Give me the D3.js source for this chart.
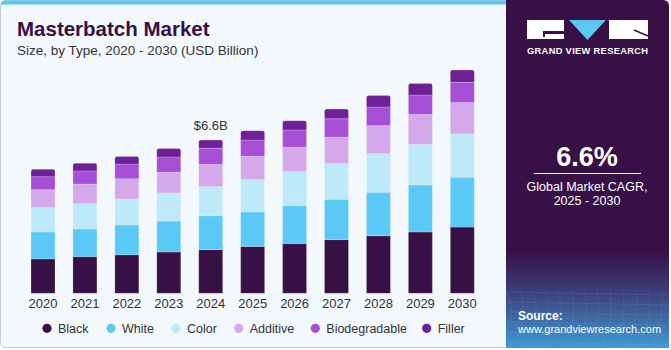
<!DOCTYPE html>
<html><head><meta charset="utf-8">
<script src="https://cdn.jsdelivr.net/npm/d3@7"></script>
<style>body{margin:0;padding:0;background:#fff;}svg{display:block;font-family:"Liberation Sans",Arial,sans-serif;}</style>
</head><body><svg id="c" width="671" height="350"></svg>
<script>
const years = ["2020","2021","2022","2023","2024","2025","2026","2027","2028","2029","2030"];
const seriesNames = ["Black","White","Color","Additive","Biodegradable","Filler"];
const black = [1.48,1.58,1.66,1.78,1.88,2.02,2.14,2.31,2.48,2.64,2.85];
const white = [1.16,1.19,1.28,1.33,1.46,1.49,1.64,1.74,1.87,2.02,2.15];
const color = [1.05,1.09,1.12,1.21,1.25,1.38,1.46,1.53,1.66,1.75,1.86];
const additive = [0.77,0.84,0.87,0.89,0.96,1.01,1.05,1.14,1.21,1.29,1.35];
const biodegradable = [0.56,0.57,0.63,0.66,0.70,0.70,0.74,0.79,0.80,0.83,0.87];
const filler = [0.32,0.33,0.33,0.36,0.35,0.40,0.40,0.42,0.49,0.50,0.53];
const colors = ["#371046","#5bc9f5","#bde9f8","#d5a8ec","#a64fd6","#6e2196"];
const annotation = {year:"2024", text:"$6.6B"};

const svg = d3.select("#c");
const defs = svg.append("defs");
const grad = defs.append("linearGradient").attr("id","pg").attr("x1",0).attr("y1",0).attr("x2",0).attr("y2",1);
grad.append("stop").attr("offset","0%").attr("stop-color","#371046");
grad.append("stop").attr("offset","72%").attr("stop-color","#371046");
grad.append("stop").attr("offset","84%").attr("stop-color","#3c3f7a");
grad.append("stop").attr("offset","100%").attr("stop-color","#3f9ad6");

// left panel
svg.append("rect").attr("x",0.5).attr("y",0.5).attr("width",520).attr("height",347).attr("rx",5)
  .attr("fill","#f3f8fc").attr("stroke","#c9cdd1");
svg.append("path").attr("d","M0.5,5.5 Q0.5,0.5 5.5,0.5 L520,0.5 L520,4.5 L0.5,4.5 Z").attr("fill","#5bc8f0");
// right panel
svg.append("path").attr("d","M506,0 L663,0 Q669,0 669,6 L669,348 L506,348 Z").attr("fill","url(#pg)");
// grid texture at bottom
const gg = svg.append("g").attr("opacity",0.18).attr("stroke","#9fd6f5").attr("stroke-width",0.6).attr("fill","none");
for(let i=0;i<14;i++){ gg.append("path").attr("d",`M${506+i*13},290 Q${520+i*12},320 ${506+i*13-10},348`); }
for(let j=0;j<6;j++){ gg.append("line").attr("x1",506).attr("x2",669).attr("y1",292+j*10).attr("y2",292+j*10+3); }

// logo
const lg = svg.append("g");
lg.append("rect").attr("x",527).attr("y",20).attr("width",37).attr("height",19).attr("fill","#fff");
lg.append("rect").attr("x",543).attr("y",31).attr("width",21).attr("height",3).attr("fill","#371046");
lg.append("rect").attr("x",543).attr("y",31).attr("width",2).attr("height",6).attr("fill","#371046");
lg.append("path").attr("d","M569,20 L606,20 L587.5,40 Z").attr("fill","#5bc8f0");
lg.append("rect").attr("x",609).attr("y",20).attr("width",39).attr("height",19).attr("fill","#fff");
lg.append("path").attr("d","M634,30 L648,36").attr("stroke","#371046").attr("stroke-width",1.5);
lg.append("text").attr("x",527).attr("y",54).attr("fill","#fff")
  .attr("font-size",9.3).attr("font-weight","bold").attr("textLength",121).attr("lengthAdjust","spacing").text("GRAND VIEW RESEARCH");

// CAGR
svg.append("text").attr("x",587).attr("y",166).attr("text-anchor","middle").attr("fill","#fff")
  .attr("font-size",27).attr("font-weight","bold").text("6.6%");
svg.append("line").attr("x1",534).attr("x2",641).attr("y1",173.5).attr("y2",173.5).attr("stroke","#fff").attr("stroke-width",1);
svg.append("text").attr("x",587).attr("y",191).attr("text-anchor","middle").attr("fill","#fff")
  .attr("font-size",12.5).text("Global Market CAGR,");
svg.append("text").attr("x",587).attr("y",205).attr("text-anchor","middle").attr("fill","#fff")
  .attr("font-size",12.5).text("2025 - 2030");
svg.append("text").attr("x",518).attr("y",320).attr("fill","#fff").attr("font-size",12).attr("font-weight","bold").text("Source:");
svg.append("text").attr("x",518).attr("y",333).attr("fill","#fff").attr("font-size",11).text("www.grandviewresearch.com");

// title
svg.append("text").attr("x",17).attr("y",36).attr("fill","#371046").attr("font-size",20.5).attr("font-weight","bold")
  .text("Masterbatch Market");
svg.append("text").attr("x",17).attr("y",54.5).attr("fill","#333").attr("font-size",13.5)
  .text("Size, by Type, 2020 - 2030 (USD Billion)");

// chart
const x = d3.scaleBand().domain(years).range([22.04,483.27]).paddingInner(0.428).paddingOuter(0.214);
const y = d3.scaleLinear().domain([0,10]).range([293.3,61]);
const series = [black,white,color,additive,biodegradable,filler];
const table = years.map((yr,i)=>{const o={year:yr}; seriesNames.forEach((s,k)=>o[s]=series[k][i]); return o;});
const stacked = d3.stack().keys(seriesNames)(table);

const gBars = svg.append("g");
stacked.forEach((layer,k)=>{
  gBars.selectAll(null).data(layer).join("path")
    .attr("fill",colors[k]).attr("stroke","rgba(255,255,255,0.35)").attr("stroke-width",0.6)
    .attr("d",d=>{
      const x0=x(d.data.year), w=x.bandwidth(), y0=y(d[0]), y1=y(d[1]);
      if(k===seriesNames.length-1){
        const r=2;
        return `M${x0},${y0}L${x0},${y1+r}Q${x0},${y1} ${x0+r},${y1}L${x0+w-r},${y1}Q${x0+w},${y1} ${x0+w},${y1+r}L${x0+w},${y0}Z`;
      }
      return `M${x0},${y0}L${x0},${y1}L${x0+w},${y1}L${x0+w},${y0}Z`;
    });
});

// x axis
const xAxis = svg.append("g").attr("transform","translate(0,293.3)").call(d3.axisBottom(x).tickSize(0).tickPadding(5));
xAxis.select(".domain").remove();
xAxis.selectAll("text").attr("font-size",13).attr("fill","#333").attr("font-family","Liberation Sans, Arial, sans-serif");

// annotation
const ai = years.indexOf(annotation.year);
const total = seriesNames.reduce((s,n,k)=>s+series[k][ai],0);
svg.append("text").attr("x",x(annotation.year)+x.bandwidth()/2).attr("y",y(total)-10)
  .attr("text-anchor","middle").attr("font-size",13).attr("fill","#333").text(annotation.text);

// legend
const legX = [47,111,176,238.7,315.3,426.7];
const leg = svg.append("g");
seriesNames.forEach((n,k)=>{
  leg.append("circle").attr("cx",legX[k]).attr("cy",328.3).attr("r",4.6).attr("fill",colors[k]);
  leg.append("text").attr("x",legX[k]+11).attr("y",332.5).attr("font-size",12.5).attr("fill","#333").text(n);
});
</script></body></html>
